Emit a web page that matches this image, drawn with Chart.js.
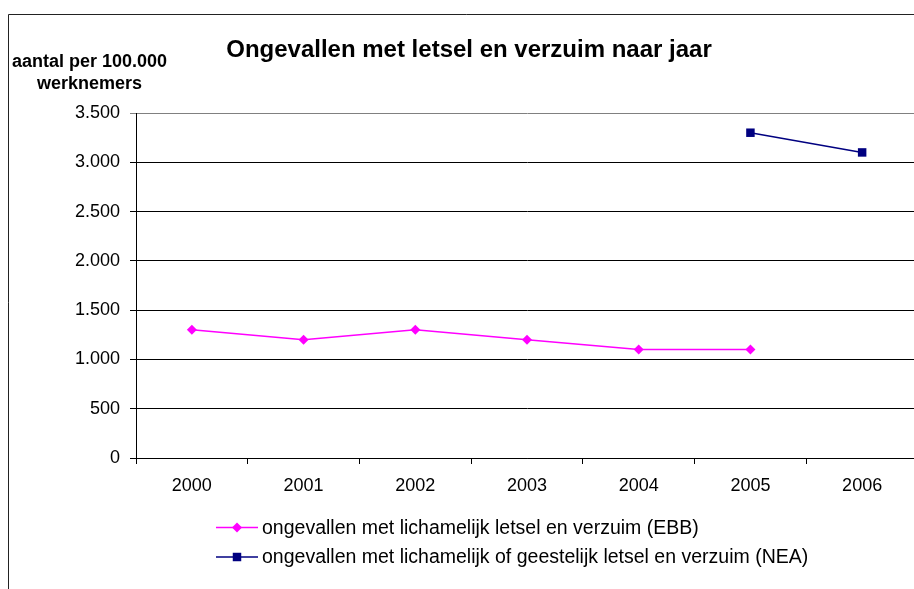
<!DOCTYPE html>
<html>
<head>
<meta charset="utf-8">
<script src="https://cdn.jsdelivr.net/npm/chart.js@4/dist/chart.umd.min.js"></script>
<style>
  html, body { margin: 0; padding: 0; background: #ffffff; overflow: hidden; }
  #wrap { position: relative; width: 924px; height: 589px; }
  canvas { display: block; }
</style>
</head>
<body>
<div id="wrap"><canvas id="chart" width="924" height="589"></canvas></div>
<script>
// Jaren op de x-as
const years = ['2000', '2001', '2002', '2003', '2004', '2005', '2006'];
// Ongevallen met lichamelijk letsel en verzuim (EBB), per 100.000 werknemers
const ebbValues = [1300, 1200, 1300, 1200, 1100, 1100, null];
// Ongevallen met lichamelijk of geestelijk letsel en verzuim (NEA)
const neaValues = [null, null, null, null, null, 3300, 3100];
// Waarden op de y-as
const yTickValues = [0, 500, 1000, 1500, 2000, 2500, 3000, 3500];

const seriesLabels = [
  'ongevallen met lichamelijk letsel en verzuim (EBB)',
  'ongevallen met lichamelijk of geestelijk letsel en verzuim (NEA)'
];
const chartTitle = 'Ongevallen met letsel en verzuim naar jaar';
const yAxisTitle = ['aantal per 100.000', 'werknemers'];

const FONT = '"Liberation Sans", Arial, sans-serif';

// Punt met duizendtalscheiding (3.500)
function formatNumber(v) {
  return String(v).replace(/\B(?=(\d{3})+(?!\d))/g, '.');
}

function drawMarker(ctx, style, x, y, r, color) {
  ctx.save();
  ctx.fillStyle = color;
  ctx.beginPath();
  if (style === 'rectRot') {
    ctx.moveTo(x, y - r);
    ctx.lineTo(x + r, y);
    ctx.lineTo(x, y + r);
    ctx.lineTo(x - r, y);
    ctx.closePath();
  } else {
    const s = r * Math.SQRT1_2;
    ctx.rect(x - s, y - s, 2 * s, 2 * s);
  }
  ctx.fill();
  ctx.restore();
}

// Kader, titel, as-titel en legenda
const decorations = {
  id: 'decorations',
  beforeDraw(chart) {
    const ctx = chart.ctx;
    ctx.save();
    ctx.fillStyle = '#ffffff';
    ctx.fillRect(0, 0, chart.width, chart.height);
    ctx.strokeStyle = '#222222';
    ctx.lineWidth = 1;
    ctx.beginPath();
    ctx.moveTo(8.5, chart.height + 2);
    ctx.lineTo(8.5, 14.5);
    ctx.lineTo(chart.width + 2, 14.5);
    ctx.stroke();
    ctx.restore();
  },
  afterDraw(chart) {
    const ctx = chart.ctx;
    ctx.save();
    ctx.fillStyle = '#000000';
    ctx.textAlign = 'center';
    ctx.textBaseline = 'alphabetic';
    ctx.font = 'bold 24px ' + FONT;
    ctx.fillText(chartTitle, 469, 57);

    ctx.font = 'bold 18px ' + FONT;
    ctx.fillText(yAxisTitle[0], 89.5, 66.5);
    ctx.fillText(yAxisTitle[1], 89.5, 88.5);

    // Legenda
    ctx.textAlign = 'left';
    ctx.textBaseline = 'middle';
    ctx.font = '19.5px ' + FONT;
    chart.data.datasets.forEach((ds, i) => {
      const y = 527.5 + i * 29.5;
      ctx.strokeStyle = ds.borderColor;
      ctx.lineWidth = ds.borderWidth;
      ctx.beginPath();
      ctx.moveTo(216, y);
      ctx.lineTo(258, y);
      ctx.stroke();
      drawMarker(ctx, ds.pointStyle, 237, y, ds.pointRadius, ds.pointBackgroundColor);
      ctx.fillStyle = '#000000';
      ctx.fillText(ds.label, 262, y + 1);
    });
    ctx.restore();
  }
};

new Chart(document.getElementById('chart'), {
  type: 'line',
  data: {
    labels: years,
    datasets: [
      {
        label: seriesLabels[0],
        data: ebbValues,
        borderColor: '#ff00ff',
        backgroundColor: '#ff00ff',
        pointBackgroundColor: '#ff00ff',
        pointBorderColor: '#ff00ff',
        pointStyle: 'rectRot',
        pointRadius: 5,
        pointBorderWidth: 0,
        borderWidth: 1.5,
        tension: 0,
        spanGaps: false
      },
      {
        label: seriesLabels[1],
        data: neaValues,
        borderColor: '#000080',
        backgroundColor: '#000080',
        pointBackgroundColor: '#000080',
        pointBorderColor: '#000080',
        pointStyle: 'rect',
        pointRadius: 6,
        pointBorderWidth: 0,
        borderWidth: 1.5,
        tension: 0,
        spanGaps: false
      }
    ]
  },
  options: {
    responsive: false,
    animation: false,
    devicePixelRatio: 1,
    layout: { padding: { top: 113, left: 0, right: 0, bottom: 0 } },
    plugins: {
      legend: { display: false },
      title: { display: false },
      tooltip: { enabled: false }
    },
    scales: {
      x: {
        type: 'category',
        offset: true,
        grid: {
          offset: true,
          drawOnChartArea: false,
          drawTicks: true,
          tickLength: 6,
          color: '#000000',
          lineWidth: 1
        },
        border: { color: '#000000', width: 1 },
        ticks: {
          color: '#000000',
          font: { family: FONT, size: 18 },
          padding: 11,
          maxRotation: 0,
          autoSkip: false
        },
        afterFit(scale) { scale.height = 131; }
      },
      y: {
        min: 0,
        max: 3500,
        afterBuildTicks(scale) {
          scale.ticks = yTickValues.map(v => ({ value: v }));
        },
        grid: {
          drawTicks: true,
          tickLength: 6,
          color: (c) => (c.tick && c.tick.value === 3500 ? '#808080' : '#000000'),
          lineWidth: 1
        },
        border: { color: '#000000', width: 1 },
        ticks: {
          color: '#000000',
          font: { family: FONT, size: 18 },
          padding: 10,
          callback: (v) => formatNumber(v)
        },
        afterFit(scale) { scale.width = 136; }
      }
    }
  },
  plugins: [decorations]
});
</script>
</body>
</html>
